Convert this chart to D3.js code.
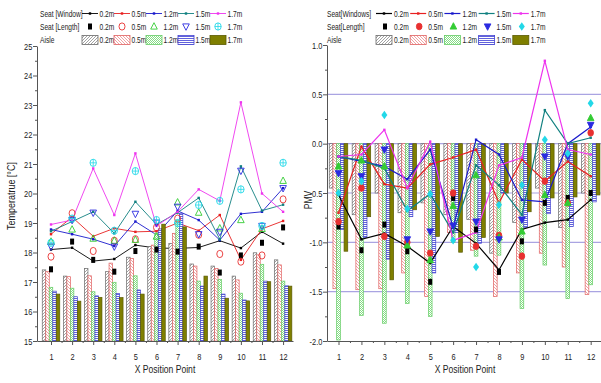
<!DOCTYPE html>
<html>
<head>
<meta charset="utf-8">
<script src="https://cdn.jsdelivr.net/npm/d3@7"></script>
<style>
  html, body { margin: 0; padding: 0; background: #fff; }
  svg text { font-family: "Liberation Sans", Arial, sans-serif; fill: #222; }
</style>
</head>
<body>
<svg id="chart" width="601" height="383"></svg>
<script>
// x categories and legend names
const positions = [1, 2, 3, 4, 5, 6, 7, 8, 9, 10, 11, 12];
const heights = ['0.2m', '0.5m', '1.2m', '1.5m', '1.7m'];
const tempTicks = [15, 16, 17, 18, 19, 20, 21, 22, 23, 24, 25];
const pmvTicks = [-2, -1.5, -1, -0.5, 0, 0.5, 1];
const pmvGrid = [0.5, 0, -0.5, -1, -1.5];

// Temperature - seat (window) lines
const tWin02 = [18.1, 18.16, 17.71, 17.78, 18.25, 18.15, 18.14, 18.17, 18.4, 18.15, 18.7, 18.3];
const tWin05 = [18.62, 19.2, 18.55, 18.82, 18.7, 18.72, 19.0, 18.74, 19.27, 17.75, 18.8, 19.07];
const tWin12 = [18.78, 18.62, 18.45, 18.22, 19.05, 18.6, 19.41, 19.1, 18.42, 19.31, 19.38, 20.18];
const tWin15 = [18.72, 19.05, 19.38, 18.65, 19.72, 18.95, 19.35, 19.85, 18.45, 20.92, 19.42, 19.62];
const tWin17 = [18.95, 19.1, 20.85, 19.27, 21.36, 18.9, 19.38, 20.14, 19.75, 23.09, 20.0, 19.38];
// Temperature - seat (length) markers
const tLen02 = [17.43, 18.37, 17.75, 17.35, 18.05, 18.1, 18.03, 18.2, 17.32, 17.9, 18.33, 18.85];
const tLen05 = [17.86, 19.33, 18.05, 18.4, 18.45, 18.85, 19.15, 18.6, 17.95, 17.69, 17.9, 19.8];
const tLen12 = [18.37, 18.78, 18.47, 18.4, 18.43, 18.54, 19.7, 19.35, 18.82, 19.1, 18.8, 20.43];
const tLen15 = [18.2, 19.1, 19.35, 18.2, 19.31, 19.01, 19.55, 18.62, 18.7, 20.77, 18.9, 20.18];
const tLen17 = [18.33, 19.15, 21.04, 18.74, 20.76, 19.1, 19.0, 19.61, 19.75, 20.14, 18.9, 21.04];
// Temperature - aisle bars
const tAisle02 = [17.41, 17.2, 17.46, 17.35, 17.84, 18.2, 18.31, 17.61, 17.54, 17.2, 17.99, 17.75];
const tAisle05 = [17.35, 17.18, 17.21, 17.64, 17.8, 18.25, 18.65, 17.54, 17.46, 17.07, 17.92, 17.58];
const tAisle12 = [16.82, 16.79, 16.67, 16.99, 17.21, 18.66, 19.1, 17.03, 17.09, 16.62, 17.6, 17.03];
const tAisle15 = [16.69, 16.5, 16.53, 16.61, 16.73, 18.8, 19.33, 16.86, 16.59, 16.39, 17.03, 16.87];
const tAisle17 = [16.59, 16.35, 16.48, 16.47, 16.59, 18.96, 18.87, 17.2, 16.45, 16.36, 17.01, 16.86];

// PMV - seat (windows) lines
const pWin02 = [-0.52, -0.97, -0.91, -1.04, -1.21, -0.84, -1.01, -1.28, -0.87, -0.8, -0.77, -0.57];
const pWin05 = [-0.7, -0.03, -0.41, -0.45, -0.21, -0.14, -0.06, -0.6, -0.16, -0.38, -0.18, -0.33];
const pWin12 = [-0.13, -0.18, -0.23, -0.36, -0.06, -0.85, 0.04, -0.11, -0.57, -0.59, 0.0, 0.17];
const pWin15 = [-0.13, -0.17, -0.25, -0.68, -0.51, -0.9, -0.22, -0.42, -0.72, 0.34, 0.0, 0.06];
const pWin17 = [-0.13, -0.11, 0.14, -0.45, 0.02, -0.98, -0.9, -0.22, -0.14, 0.84, -0.06, -0.11];
// PMV - seat (length) markers
const pLen02 = [-0.84, -1.08, -0.82, -1.09, -1.4, -0.55, -0.87, -1.3, -0.99, -0.6, -0.55, -0.5];
const pLen05 = [-0.79, -0.45, -0.94, -1.0, -1.11, -0.5, -1.04, -0.93, -1.14, -0.38, -0.6, 0.11];
const pLen12 = [-0.23, -0.17, -0.23, -1.03, -1.18, -0.63, -0.32, -0.95, -0.89, -0.52, -0.6, 0.26];
const pLen15 = [-0.3, -0.33, -0.06, -0.97, -0.89, -0.83, -0.79, -0.97, -0.77, -0.13, -0.13, 0.19];
const pLen17 = [-0.5, -0.38, 0.29, -0.66, -0.51, -0.98, -1.25, -0.62, -0.42, 0.04, -0.1, 0.41];
// PMV - aisle bars
const pAisle02 = [-0.45, -0.72, -0.5, -0.7, -0.6, -0.72, -0.77, -1.11, -0.8, -0.45, -0.85, -0.5];
const pAisle05 = [-1.47, -1.48, -1.47, -1.31, -1.55, -0.9, -1.08, -1.55, -1.31, -1.11, -1.25, -1.53];
const pAisle12 = [-1.99, -1.74, -1.82, -1.62, -1.75, -1.0, -1.14, -1.13, -1.67, -1.23, -1.57, -1.43];
const pAisle15 = [-0.87, -0.95, -1.17, -0.74, -1.31, -0.9, -1.01, -0.5, -0.85, -0.71, -0.84, -0.59];
const pAisle17 = [-1.09, -0.74, -1.38, -0.67, -0.94, -1.1, -0.95, -0.5, -0.69, -0.55, -0.54, -0.52];

const lineColors = ['#000000', '#e82020', '#1a1acc', '#118080', '#ee33ee'];
const markColors = ['#000000', '#e83030', '#33cc33', '#2a2ae0', '#22d8e8'];
const barFills = ['url(#h02)', 'url(#h05)', 'url(#h12)', 'url(#h15)', '#7f7f00'];
const barStrokes = ['#6a6a6a', '#e06060', '#66cc66', '#4040d0', '#5a5a00'];
const NARROW = 0.78; // the source font is a condensed sans

const svg = d3.select('#chart');
const defs = svg.append('defs');

// condensed text helper
function ntext(g, x, y, str, size, anchor) {
  return g.append('text')
    .attr('transform', `translate(${x},${y}) scale(${NARROW},1)`)
    .attr('text-anchor', anchor || 'start')
    .style('font-size', size + 'px')
    .text(str);
}

// hatch patterns for the aisle bars
function pattern(id, w, h, bg, build) {
  const p = defs.append('pattern').attr('id', id)
    .attr('patternUnits', 'userSpaceOnUse').attr('width', w).attr('height', h);
  if (bg) p.append('rect').attr('width', w).attr('height', h).attr('fill', bg);
  build(p);
}
pattern('h02', 3, 3, '#fff', p => p.append('path')
  .attr('d', 'M0,3L3,0M-1,1L1,-1M2,4L4,2').attr('stroke', '#8a8a8a').attr('stroke-width', 0.8));
pattern('h05', 3, 3, '#fff', p => p.append('path')
  .attr('d', 'M0,0L3,3M-1,2L1,4M2,-1L4,1').attr('stroke', '#ec8a8a').attr('stroke-width', 0.8));
pattern('h12', 2, 2, '#fff', p => {
  p.append('rect').attr('x', 0).attr('y', 0).attr('width', 1).attr('height', 1).attr('fill', '#86de86');
  p.append('rect').attr('x', 1).attr('y', 1).attr('width', 1).attr('height', 1).attr('fill', '#86de86');
});
pattern('h15', 3, 2, '#fff', p => p.append('rect')
  .attr('x', 0).attr('y', 0).attr('width', 3).attr('height', 0.9).attr('fill', '#5050d8'));

// marker drawing: kind 0 square, 1 circle, 2 triangle, 3 down triangle, 4 crossed circle / diamond
function marker(g, x, y, kind, color, filled) {
  const fill = filled ? color : 'none';
  if (kind === 0) {
    g.append('rect').attr('x', x - 2).attr('y', y - 3).attr('width', 4).attr('height', 6).attr('fill', color);
  } else if (kind === 1) {
    g.append('ellipse').attr('cx', x).attr('cy', y).attr('rx', filled ? 2.8 : 3).attr('ry', filled ? 3.3 : 3.6)
      .attr('fill', fill).attr('stroke', color).attr('stroke-width', 0.9);
  } else if (kind === 2) {
    g.append('path').attr('d', `M${x},${y - 3.8}L${x + 3.3},${y + 2.6}L${x - 3.3},${y + 2.6}Z`)
      .attr('fill', fill).attr('stroke', color).attr('stroke-width', 0.9);
  } else if (kind === 3) {
    g.append('path').attr('d', `M${x},${y + 3.8}L${x + 3.3},${y - 2.6}L${x - 3.3},${y - 2.6}Z`)
      .attr('fill', fill).attr('stroke', color).attr('stroke-width', 0.9);
  } else if (filled) {
    g.append('path').attr('d', `M${x},${y - 4.2}L${x + 3},${y}L${x},${y + 4.2}L${x - 3},${y}Z`).attr('fill', color);
  } else {
    g.append('ellipse').attr('cx', x).attr('cy', y).attr('rx', 3.2).attr('ry', 3.6)
      .attr('fill', 'none').attr('stroke', color).attr('stroke-width', 0.9);
    g.append('path').attr('d', `M${x - 3.2},${y}H${x + 3.2}M${x},${y - 3.6}V${y + 3.6}`)
      .attr('stroke', color).attr('stroke-width', 0.8);
  }
}

function axes(g, x, y, cfg) {
  const xb = g.append('g').attr('transform', `translate(0,${cfg.bottom})`)
    .call(d3.axisBottom(x).tickValues(positions).tickFormat(d3.format('d')).tickSize(4).tickSizeOuter(0).tickPadding(8));
  g.append('g').attr('transform', `translate(0,${cfg.bottom})`)
    .call(d3.axisBottom(x).tickValues(positions.map(d => d + 0.5).filter(d => d < x.domain()[1])).tickFormat('').tickSize(2))
    .select('.domain').remove();
  const yb = g.append('g').attr('transform', `translate(${cfg.left},0)`)
    .call(d3.axisLeft(y).tickValues(cfg.yTicks).tickFormat(cfg.yFormat).tickSize(4).tickSizeOuter(0).tickPadding(2));
  g.append('g').attr('transform', `translate(${cfg.left},0)`)
    .call(d3.axisLeft(y).tickValues(cfg.yMinor).tickFormat('').tickSize(2))
    .select('.domain').remove();
  g.selectAll('.domain, .tick line').attr('stroke', '#555');
  xb.selectAll('text').style('font-size', '9.5px').attr('transform', `scale(${NARROW},1)`);
  yb.selectAll('text').style('font-size', '9.5px').attr('transform', `scale(${NARROW},1)`);
}

function bars(g, x, y, base, series, bw) {
  series.forEach((vals, i) => {
    g.selectAll(null).data(vals).enter().append('rect')
      .attr('x', (d, j) => x(positions[j]) + (i - 2.5) * bw)
      .attr('y', d => Math.min(y(d), y(base)))
      .attr('width', bw)
      .attr('height', d => Math.abs(y(d) - y(base)))
      .attr('fill', barFills[i])
      .attr('stroke', barStrokes[i])
      .attr('stroke-width', 0.7);
  });
}

function lines(g, x, y, series, width) {
  series.forEach((vals, i) => {
    const line = d3.line().x((d, j) => x(positions[j])).y(d => y(d));
    g.append('path').datum(vals).attr('d', line).attr('fill', 'none')
      .attr('stroke', lineColors[i]).attr('stroke-width', width);
    g.selectAll(null).data(vals).enter().append('rect')
      .attr('x', (d, j) => x(positions[j]) - 1.2).attr('y', d => y(d) - 1.2)
      .attr('width', 2.4).attr('height', 2.4).attr('fill', lineColors[i]);
  });
}

function markers(g, x, y, series, filled) {
  series.forEach((vals, i) => {
    vals.forEach((d, j) => marker(g, x(positions[j]), y(d), i, markColors[i], filled));
  });
}

function legend(g, cfg) {
  const rows = [13.5, 26.5, 40];
  cfg.titles.forEach((t, r) => ntext(g, cfg.x, rows[r] + 3, t, 8.5));
  heights.forEach((h, i) => {
    const sx = cfg.sx + i * cfg.step;
    // line sample
    g.append('line').attr('x1', sx).attr('x2', sx + 16).attr('y1', rows[0]).attr('y2', rows[0])
      .attr('stroke', lineColors[i]).attr('stroke-width', cfg.lw);
    g.append('rect').attr('x', sx + 6.8).attr('y', rows[0] - 1.2).attr('width', 2.4).attr('height', 2.4).attr('fill', lineColors[i]);
    // marker sample
    marker(g, sx + cfg.mOff, rows[1], i, markColors[i], cfg.filled);
    // bar sample
    g.append('rect').attr('x', sx).attr('y', rows[2] - 4.5).attr('width', 16).attr('height', 9)
      .attr('fill', barFills[i]).attr('stroke', barStrokes[i]).attr('stroke-width', 0.8);
    rows.forEach(ry => ntext(g, sx + cfg.tOff, ry + 3, h, 8.5));
  });
}

// ---- left chart: temperature ----
const xL = d3.scaleLinear().domain([0.336, 12.47]).range([37, 293]);
const yL = d3.scaleLinear().domain([15, 25]).range([341, 46]);
const gL = svg.append('g');
lines(gL, xL, yL, [tWin02, tWin05, tWin12, tWin15, tWin17], 0.9);
bars(gL, xL, yL, 15, [tAisle02, tAisle05, tAisle12, tAisle15, tAisle17], 3.5);
markers(gL, xL, yL, [tLen02, tLen05, tLen12, tLen15, tLen17], false);
axes(gL, xL, yL, { bottom: 341, left: 37, yTicks: tempTicks, yFormat: d3.format('d'),
  yMinor: d3.range(15.5, 25, 1) });
legend(gL, { x: 40, sx: 82, step: 32, tOff: 17.5, mOff: 8, lw: 0.9, filled: false,
  titles: ['Seat [Window]', 'Seat [Length]', 'Aisle'] });
ntext(gL, 0, 0, 'Temperatrue [\u00B0C]', 11.5, 'middle')
  .attr('transform', `translate(15,196) rotate(-90) scale(${NARROW},1)`);
ntext(gL, 165, 373, 'X Position Point', 11, 'middle');

// ---- right chart: PMV ----
const xR = d3.scaleLinear().domain([0.498, 12.45]).range([327, 601]);
const yR = d3.scaleLinear().domain([-2, 1]).range([341, 45]);
const gR = svg.append('g');
gR.selectAll(null).data(pmvGrid).enter().append('line')
  .attr('x1', 327).attr('x2', 601).attr('y1', d => yR(d)).attr('y2', d => yR(d))
  .attr('stroke', '#aaa4e2').attr('stroke-width', 1.2);
bars(gR, xR, yR, 0, [pAisle02, pAisle05, pAisle12, pAisle15, pAisle17], 3.7);
lines(gR, xR, yR, [pWin02, pWin05, pWin12, pWin15, pWin17], 1.2);
markers(gR, xR, yR, [pLen02, pLen05, pLen12, pLen15, pLen17], true);
axes(gR, xR, yR, { bottom: 341, left: 327, yTicks: pmvTicks, yFormat: d => d.toFixed(1),
  yMinor: d3.range(-1.75, 1, 0.5) });
legend(gR, { x: 327, sx: 376, step: 34.2, tOff: 18, mOff: 9, lw: 1.2, filled: true,
  titles: ['Seat[Windows]', 'Seat[Length]', 'Aisle'] });
ntext(gR, 0, 0, 'PMV', 11, 'middle')
  .attr('transform', `translate(312,200) rotate(-90) scale(${NARROW},1)`);
ntext(gR, 465, 373, 'X Position Point', 11, 'middle');
</script>
</body>
</html>
